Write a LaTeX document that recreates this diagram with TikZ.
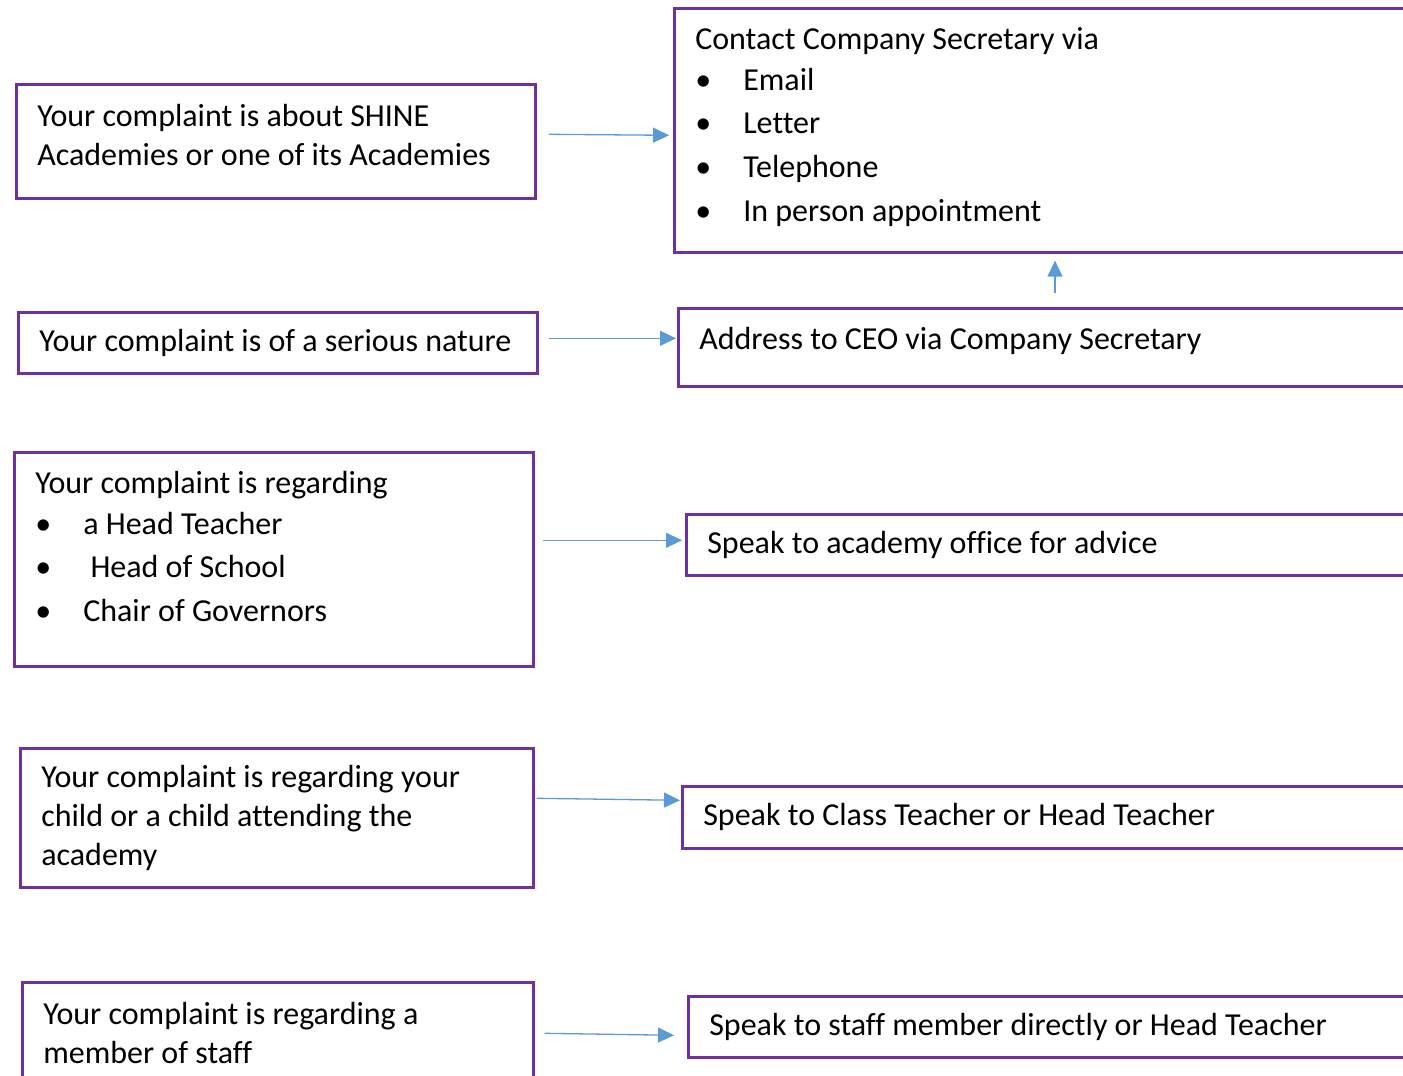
\documentclass[tikz,border=0pt]{standalone}
\usepackage{fontspec}
\setmainfont{Carlito}[Ligatures=NoCommon]
\usetikzlibrary{arrows.meta,positioning}
\definecolor{boxpurple}{HTML}{7030A0}
\definecolor{flowblue}{HTML}{5B9BD5}
\hyphenpenalty=10000
\tikzset{box/.style={draw=boxpurple,line width=2.6pt,anchor=north west,align=left,inner xsep=21pt,inner ysep=0pt,font=\fontsize{32}{39}\selectfont,
		execute at begin node={\spaceskip=0.226em\relax}},
	flow/.style={draw=flowblue,line width=1.3pt,-{Triangle[length=16pt,width=15pt]}}}
\newcommand{\bitem}[1]{\makebox[48pt][l]{\textbullet}#1}

\begin{document}
\begin{tikzpicture}[x=1pt,y=-1pt]
	\useasboundingbox (0,0) rectangle (1403,1076);
	\clip (0,0) rectangle (1403,1076);
	% left column
	\node[box,text width=477pt,minimum height=114pt] (about) at (15,83) {Your complaint is about SHINE\\Academies or one of its Academies\rule[-12pt]{0pt}{0pt}};
	\node[box,text width=477pt,minimum height=61pt] (serious) at (17,311) {Your complaint is of a serious nature};
	\node[box,text width=477pt,minimum height=214pt] (regarding) at (13,451) {Your complaint is regarding\\[2pt]
		\bitem{a Head Teacher}\\[4pt]
		\bitem{\ Head of School}\\[5pt]
		\bitem{Chair of Governors}\rule[-26pt]{0pt}{0pt}};
	\node[box,text width=471pt,minimum height=139pt] (child) at (19,747) {Your complaint is regarding your\\child or a child attending the\\academy};
	\node[box,text width=469pt,minimum height=110pt] (staff) at (21,981) {Your complaint is regarding a\\member of staff\rule[-8pt]{0pt}{0pt}};
	% right column
	\node[box,text width=800pt,minimum height=244pt] (contact) at (673,7) {Contact Company Secretary via\\[2pt]
		\bitem{Email}\\[4pt]
		\bitem{Letter}\\[5pt]
		\bitem{Telephone}\\[5pt]
		\bitem{In person appointment}\rule[-12pt]{0pt}{0pt}};
	\node[box,text width=800pt,minimum height=78pt] (ceo) at (677,307) {Address to CEO via Company Secretary\rule[-18pt]{0pt}{0pt}};
	\node[box,text width=800pt,minimum height=61pt] (office) at (685,513) {Speak to academy office for advice};
	\node[box,text width=800pt,minimum height=62pt] (teacher) at (681,785) {Speak to Class Teacher or Head Teacher};
	\node[box,text width=800pt,minimum height=61pt] (directly) at (687,995) {Speak to staff member directly or Head Teacher};
	% arrows
	\draw[flow] ([xshift=12pt,yshift=7pt]about.east) -- ([xshift=-4pt,yshift=-5pt]contact.west);
	\draw[flow] ([xshift=10pt,yshift=4.5pt]serious.east) -- ([xshift=-1pt,yshift=9pt]ceo.west);
	\draw[flow] ([xshift=8pt,yshift=19pt]regarding.east) -- ([xshift=-3pt,yshift=4.5pt]office.west);
	\draw[flow] ([xshift=2pt,yshift=19.5pt]child.east) -- ([xshift=-1pt,yshift=17pt]teacher.west);
	\draw[flow] ([xshift=10pt,yshift=4pt]staff.east) -- ([xshift=-13pt,yshift=-8.5pt]directly.west);
	\draw[flow] ([xshift=378pt,yshift=14pt]ceo.north west) -- ([xshift=382pt,yshift=-7pt]contact.south west);
\end{tikzpicture}
\end{document}
